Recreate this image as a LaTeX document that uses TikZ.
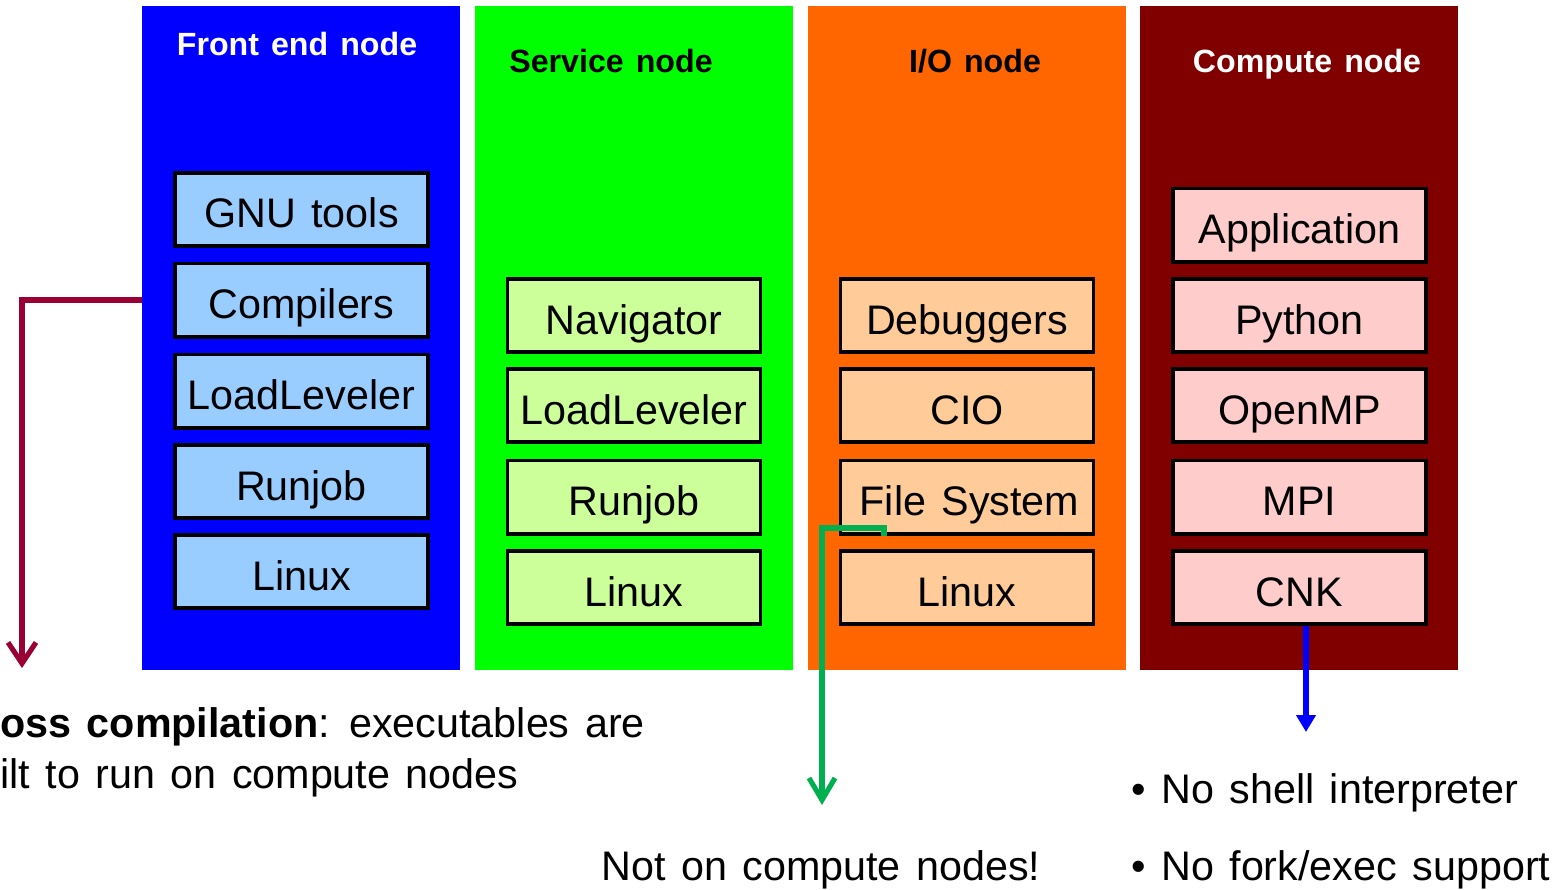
\documentclass[tikz,border=0pt]{standalone}
\usepackage{fontspec}
\setmainfont{Liberation Sans}[WordSpace=1.35]
\usetikzlibrary{arrows.meta}
\definecolor{fecol}{HTML}{0000FF}
\definecolor{srvcol}{HTML}{00FF00}
\definecolor{iocol}{HTML}{FF6600}
\definecolor{cpcol}{HTML}{800000}
\definecolor{febox}{HTML}{99CCFF}
\definecolor{srvbox}{HTML}{CCFF99}
\definecolor{iobox}{HTML}{FFCC99}
\definecolor{cpbox}{HTML}{FFCCCC}
\definecolor{crossred}{HTML}{990033}
\definecolor{notgreen}{HTML}{00B050}
\tikzset{%
  column/.style   = {shape=rectangle, inner sep=0pt,%
                     minimum width=6.36cm, minimum height=13.28cm},%
  coltitle/.style = {anchor=base, font=\fontsize{18.3}{22}\selectfont\bfseries},%
  swbox/.style    = {shape=rectangle, draw=black, line width=2pt, inner sep=0pt,%
                     minimum width=5.07cm, minimum height=1.47cm,%
                     text height=0.74cm, text depth=0pt,%
                     font=\fontsize{23.5}{28}\selectfont},%
  note/.style     = {anchor=base west, align=left, inner sep=0pt,%
                     font=\fontsize{23.5}{28.5}\selectfont},%
  conn/.style     = {line width=2.9pt}%
}
\begin{document}
\begin{tikzpicture}[x=0.02cm,y=-0.02cm]
	\useasboundingbox (0,0) rectangle (1558,889);
	\clip (0,0) rectangle (1558,889);
		\node [column, fill=fecol]  (fenode)  at (301,338) {};
		\node [column, fill=srvcol] (srvnode) at (634,338) {};
		\node [column, fill=iocol]  (ionode)  at (967,338) {};
		\node [column, fill=cpcol]  (cpnode)  at (1299,338) {};
		\node [coltitle, text=white] (fetitle)  at (297,55)  {Front end node};
		\node [coltitle]             (srvtitle) at (611,72)  {Service node};
		\node [coltitle]             (iotitle)  at (975,72)  {I/O node};
		\node [coltitle, text=white] (cptitle)  at (1307,72) {Compute node};
		\node [swbox, fill=febox] (gnu)      at (301.5,209.5) {GNU tools};
		\node [swbox, fill=febox] (fecomp)   at (301.5,300)   {Compilers};
		\node [swbox, fill=febox] (feload)   at (301.5,391)   {LoadLeveler};
		\node [swbox, fill=febox] (ferun)    at (301.5,481.5) {Runjob};
		\node [swbox, fill=febox] (felinux)  at (301.5,571.5) {Linux};
		\node [swbox, fill=srvbox] (navi)     at (634,315.5) {Navigator};
		\node [swbox, fill=srvbox] (srvload)  at (634,405.5) {LoadLeveler};
		\node [swbox, fill=srvbox] (srvrun)   at (634,497)   {Runjob};
		\node [swbox, fill=srvbox] (srvlinux) at (634,587.5) {Linux};
		\node [swbox, fill=iobox] (debug)   at (967,315.5) {Debuggers};
		\node [swbox, fill=iobox] (cio)     at (967,405.5) {CIO};
		\node [swbox, fill=iobox] (fs)      at (967,497)   {\hspace{0.1cm}File System};
		\node [swbox, fill=iobox] (iolinux) at (967,587.5) {Linux};
		\node [swbox, fill=cpbox] (app)    at (1299.5,225)   {Application};
		\node [swbox, fill=cpbox] (python) at (1299.5,315.5) {Python};
		\node [swbox, fill=cpbox] (omp)    at (1299.5,405.5) {OpenMP};
		\node [swbox, fill=cpbox] (mpi)    at (1299.5,497)   {MPI};
		\node [swbox, fill=cpbox] (cnk)    at (1299.5,587.5) {CNK};
		\node [note] (crossnote) at (-46,788) {\textbf{Cross compilation}: executables are\\built to run on compute nodes};
		\node [note] (notnote)   at (601,880) {Not on compute nodes!};
		\node [note] (shellnote) at (1131,803) {\textbullet\ No shell interpreter};
		\node [note] (forknote)  at (1131,880) {\textbullet\ No fork/exec support};
		\coordinate (crossend) at (22,668);
		\coordinate (fstick)   at (884,528);
		\coordinate (notend)   at (822,805);
		\coordinate (cnkend)   at (1306,732);
		\draw [conn, crossred, -{Straight Barb[length=0.42cm,width=0.56cm]}, line join=miter]
			(fenode.west |- fecomp) -| (crossend);
		\draw [conn, notgreen, -{Straight Barb[length=0.44cm,width=0.52cm]}]
			(fstick |- fs.south) -- (fstick) -| (notend);
		\draw [conn, fecol, -{Triangle[length=0.34cm,width=0.38cm]}]
			(cnkend |- cnk.south) -- (cnkend);
	\end{tikzpicture}
\end{document}
